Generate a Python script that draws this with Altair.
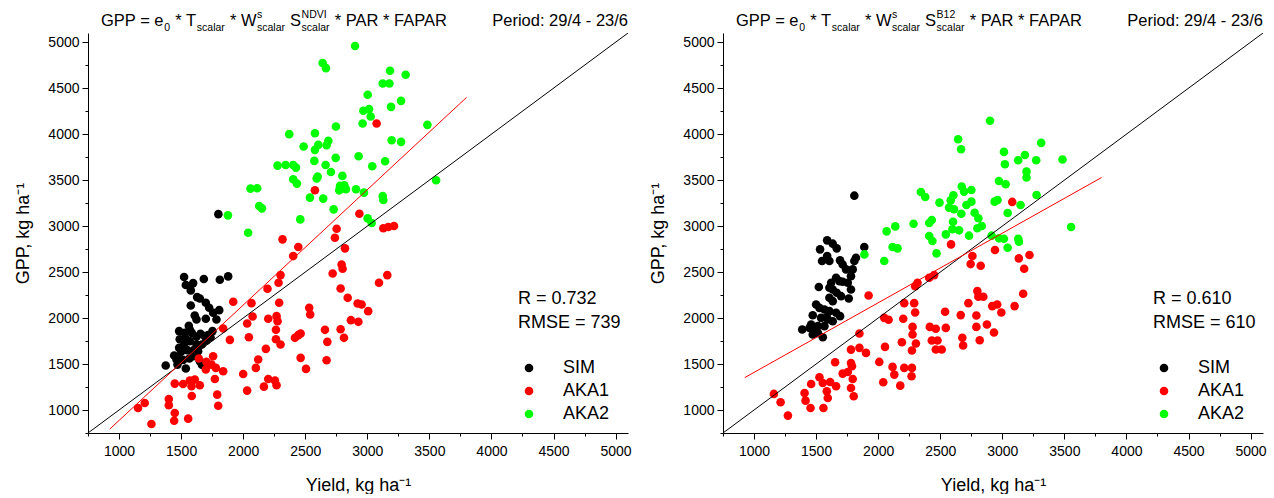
import altair as alt
import pandas as pd

# ---------------------------------------------------------------------------
# Observed yield vs. modelled GPP, two light-use-efficiency model variants
# ---------------------------------------------------------------------------
GROUPS = ["SIM", "AKA1", "AKA2"]
COLORS = ["#000000", "#ff0000", "#00ff00"]

# --- variant with the NDVI-based senescence scalar -------------------------
sim_yield_ndvi = [1524, 1879, 1812, 1683, 1538, 1597, 1578, 1629, 1651, 1699, 1578, 1726, 1807, 1758,
                  1610, 1624, 1699, 1785, 1562, 1484, 1586, 1656, 1624, 1691, 1753, 1737, 1489, 1538,
                  1522, 1484, 1549, 1602, 1444, 1481, 1516, 1567, 1637, 1667, 1667, 1376, 1471, 1538,
                  1704, 1624, 1570, 1463, 1503, 1597, 1651, 1718, 1570, 1530, 1800]
sim_gpp_ndvi = [2446, 2453, 2417, 2424, 2359, 2380, 2301, 2228, 2213, 2166, 2137, 2112, 2086, 2057,
                2028, 1985, 1992, 1985, 1916, 1858, 1839, 1829, 1796, 1803, 1858, 1792, 1770, 1774,
                1701, 1676, 1651, 1651, 1592, 1582, 1545, 1560, 1640, 1712, 1494, 1484, 1494, 1451,
                1756, 1712, 1749, 1549, 1640, 1585, 1531, 1814, 1876, 1839, 3130]

aka1_yield_ndvi = [1153, 1207, 1261, 1401, 1401, 1449, 1444, 1449, 3075, 2578, 2936, 2753, 2739, 2317,
                   2820, 2444, 2403, 3129, 3169, 3215, 2793, 2801, 2721, 2301, 2285, 3094, 3161, 2196,
                   2785, 2842, 1920, 2067, 2290, 2922, 2954, 3007, 2532, 2540, 2076, 2202, 2269, 2277,
                   2032, 2868, 2928, 1839, 2264, 2659, 2785, 1893, 2046, 2264, 2301, 2417, 2444, 2463,
                   2678, 2812, 2183, 1643, 1758, 1704, 1745, 1780, 1699, 1839, 2121, 2102, 2463, 2506,
                   2672, 2000, 2202, 2256, 2269, 2167, 2032, 1772, 1516, 1570, 1610, 1584, 1651, 1791,
                   1586, 1799, 1557]
aka1_gpp_ndvi = [1022, 1077, 848, 1120, 1051, 968, 884, 1287, 4116, 3390, 3135, 2972, 2874, 2856,
                 2758, 2772, 2674, 2976, 2990, 3001, 2583, 2536, 2485, 2467, 2384, 2384, 2467, 2318,
                 2322, 2220, 2177, 2162, 2166, 2159, 2148, 2075, 2111, 2039, 2017, 1992, 2021, 1966,
                 1941, 1977, 1959, 1886, 1872, 1872, 1879, 1763, 1792, 1770, 1712, 1785, 1814, 1832,
                 1741, 1785, 1665, 1560, 1585, 1523, 1494, 1458, 1440, 1422, 1549, 1458, 1567, 1447,
                 1541, 1392, 1338, 1320, 1269, 1254, 1211, 1338, 1283, 1320, 1331, 1258, 1269, 1167,
                 1153, 1047, 906]

aka2_yield_ndvi = [2901, 2640, 2667, 3183, 3309, 3124, 3178, 3003, 3272, 3191, 2968, 3014, 3027, 2962,
                   2371, 2578, 2747, 2686, 2672, 2605, 2578, 2487, 3196, 3272, 3484, 2573, 2745, 2930,
                   2664, 3040, 3143, 2277, 2342, 2403, 2425, 2707, 2799, 2600, 2592, 2403, 2433, 2059,
                   2113, 2780, 2815, 2828, 2774, 2909, 2973, 2538, 2645, 3124, 3129, 2129, 2151, 2729,
                   1877, 3554, 3003, 3035, 2460, 2040]
aka2_gpp_ndvi = [4958, 4773, 4718, 4689, 4646, 4551, 4551, 4428, 4362, 4297, 4254, 4272, 4192, 4116,
                 4000, 4010, 4083, 3927, 3880, 3883, 3829, 3865, 3934, 3916, 4101, 3709, 3742, 3760,
                 3665, 3651, 3705, 3658, 3665, 3665, 3636, 3589, 3546, 3538, 3517, 3509, 3462, 3408,
                 3411, 3437, 3444, 3400, 3389, 3400, 3364, 3310, 3299, 3328, 3284, 3219, 3193, 3182,
                 3117, 3498, 3084, 3034, 3073, 2928]

# --- variant with the SWIR (band 12) senescence scalar ---------------------
sim_yield_b12 = [1808, 1589, 1634, 1666, 1532, 1888, 1821, 1808, 1589, 1607, 1548, 1693, 1714, 1741,
                 1795, 1781, 1661, 1688, 1621, 1607, 1634, 1714, 1755, 1522, 1781, 1666, 1701, 1763,
                 1607, 1634, 1500, 1527, 1567, 1607, 1661, 1693, 1473, 1540, 1594, 1634, 1460, 1514,
                 1567, 1388, 1447, 1473, 1514, 1554, 1487, 1586]
sim_gpp_b12 = [3331, 2845, 2809, 2758, 2747, 2772, 2656, 2620, 2674, 2620, 2620, 2627, 2583, 2529,
               2529, 2456, 2438, 2402, 2384, 2329, 2311, 2395, 2384, 2337, 2311, 2275, 2238, 2213,
               2220, 2184, 2148, 2111, 2093, 2075, 2057, 2021, 2031, 2002, 1984, 1966, 1930, 1912,
               1912, 1875, 1893, 1821, 1839, 1792, 1857, 2010]

aka1_yield_b12 = [1160, 1214, 1273, 1407, 1415, 1460, 1455, 1527, 1559, 1554, 1613, 1661, 1586, 1594,
                  1653, 1714, 1755, 1781, 1789, 1795, 1781, 1803, 1781, 3080, 2587, 2941, 2759, 2826,
                  2745, 3133, 3219, 3176, 2317, 2298, 2411, 2451, 1923, 1849, 2799, 2807, 2847, 3168,
                  2727, 2210, 2290, 2919, 2959, 2992, 3099, 2298, 2539, 2665, 2791, 2049, 2084, 2202,
                  2876, 2277, 2277, 2304, 2272, 2416, 2464, 2545, 2791, 2933, 2678, 2684, 2432, 2478,
                  2818, 2191, 2464, 2512, 1849, 1902, 2055, 2009, 2116, 2130, 2210, 2272, 2269, 2041,
                  2178]
aka1_gpp_b12 = [1175, 1084, 939, 1185, 1102, 1283, 1022, 1356, 1022, 1294, 1305, 1258, 1204, 1131,
                1520, 1396, 1414, 1512, 1476, 1338, 1240, 1149, 1657, 3263, 2801, 2740, 2674, 2569,
                2587, 2649, 2685, 2536, 2384, 2347, 2438, 2467, 2246, 1832, 2293, 2232, 2231, 2264,
                2162, 2162, 2162, 2130, 2148, 2061, 2130, 2061, 2068, 2032, 2028, 2002, 1981, 1992,
                1930, 1904, 1821, 1723, 1647, 1904, 1883, 1893, 1904, 1843, 1785, 1701, 1756, 1756,
                1759, 1737, 1658, 1658, 1676, 1621, 1687, 1523, 1469, 1385, 1458, 1458, 1367, 1302,
                1265]

aka2_yield_b12 = [2901, 2644, 2668, 2344, 2379, 2494, 2585, 2606, 2673, 2692, 2751, 2571, 2611, 2711,
                  2751, 2670, 2777, 2807, 2834, 2799, 2603, 2598, 2652, 2545, 2732, 2285, 2138, 2068,
                  2432, 2411, 2411, 2437, 2470, 2116, 2156, 2049, 1889, 2914, 2973, 2973, 2938, 2962,
                  3013, 3021, 3027, 3313, 3128, 3182, 3195, 3195, 3273, 3485, 3147, 3043, 3276, 3554,
                  3013, 3128, 3134, 3043]
aka2_gpp_b12 = [4145, 3945, 3836, 3371, 3317, 3255, 3280, 3335, 3430, 3375, 3393, 3201, 3183, 3230,
                3266, 3135, 3146, 3085, 3001, 2976, 3048, 2965, 2954, 2910, 2896, 3026, 2997, 2943,
                3066, 3034, 2892, 2838, 2703, 2772, 2758, 2620, 2692, 2896, 2867, 3491, 3266, 3284,
                3807, 3673, 3455, 3905, 3716, 3774, 3593, 3528, 3716, 3724, 3230, 3143, 3339, 2990,
                2863, 2863, 2830, 2765]

# Regression lines (slope, intercept) drawn over the fitted yield range
FIT_YIELD_RANGE = [925, 3800]
FIT_NDVI = (1.255, -369)
FIT_B12 = (0.757, 652)

STATS_NDVI = ["R = 0.732", "RMSE = 739"]
STATS_B12 = ["R = 0.610", "RMSE = 610"]

FORMULA_NDVI = [("GPP = e", "", "0"), (" * T", "", "scalar"), (" * W", "s", "scalar"),
                (" S", "NDVI", "scalar"), (" * PAR * FAPAR", "", "")]
FORMULA_B12 = [("GPP = e", "", "0"), (" * T", "", "scalar"), (" * W", "s", "scalar"),
               (" S", "B12", "scalar"), (" * PAR * FAPAR", "", "")]
PERIOD = "Period: 29/4 - 23/6"

# Axes
AXIS_RANGE = [750, 5100]
MAJOR_TICKS = [1000, 1500, 2000, 2500, 3000, 3500, 4000, 4500, 5000]
MINOR_TICKS = [750, 1250, 1750, 2250, 2750, 3250, 3750, 4250, 4750]
X_TITLE = "Yield, kg ha\u207b\u00b9"
Y_TITLE = "GPP, kg ha\u207b\u00b9"

# ---------------------------------------------------------------------------
FONT = "Liberation Sans"
W, H = 540, 400
MAIN_SIZE, SCRIPT_SIZE = 16.5, 10.5
DOT_SIZE = 74

# Arial advance widths (1/1000 em) used to lay out the formula pieces
ARIAL = {" ": 278, "*": 389, "=": 584, ":": 278, "/": 278, "-": 333, ".": 278, ",": 278,
         "A": 667, "B": 667, "D": 722, "F": 611, "G": 778, "I": 278, "N": 722, "P": 667,
         "R": 722, "S": 667, "T": 611, "V": 667, "W": 944,
         "a": 556, "c": 500, "e": 556, "l": 222, "r": 333, "s": 500}


def text_width(s, size):
    return sum(ARIAL.get(ch, 556) for ch in s) * size / 1000.0


ANCHOR = pd.DataFrame({"k": [0]})


def label(txt, x, y, size, align="left"):
    return alt.Chart(ANCHOR).mark_text(
        text=txt, align=align, baseline="alphabetic", font=FONT, fontSize=size, color="black"
    ).encode(x=alt.value(x), y=alt.value(y))


def formula_layers(segments, x0=13, base_y=-7, sub_y=-2, sup_y=-15):
    layers = []
    x = x0
    for base, sup, sub in segments:
        lead = len(base) - len(base.lstrip(" "))
        x += text_width(base[:lead], MAIN_SIZE)
        body = base.lstrip(" ")
        layers.append(label(body, x, base_y, MAIN_SIZE))
        x += text_width(body, MAIN_SIZE)
        sx = x + 0.5
        w = 0.0
        if sup:
            layers.append(label(sup, sx, sup_y, SCRIPT_SIZE))
            w = max(w, text_width(sup, SCRIPT_SIZE))
        if sub:
            layers.append(label(sub, sx, sub_y, SCRIPT_SIZE))
            w = max(w, text_width(sub, SCRIPT_SIZE))
        if w:
            x = sx + w + 0.5
    return layers


def panel(series, fit, stats, segments):
    rows = []
    for group, xs, ys in series:
        rows += [{"Yield": a, "GPP": b, "Group": group} for a, b in zip(xs, ys)]
    df = pd.DataFrame(rows)

    sx = alt.Scale(domain=AXIS_RANGE, nice=False, zero=False)
    sy = alt.Scale(domain=AXIS_RANGE, nice=False, zero=False)

    major_x = alt.Axis(values=MAJOR_TICKS, orient="bottom", tickSize=6, labelPadding=5,
                       format="d", labelFlush=False, title=X_TITLE, titlePadding=18)
    major_y = alt.Axis(values=MAJOR_TICKS, orient="left", tickSize=6, labelPadding=3,
                       format="d", labelFlush=False, title=Y_TITLE, titlePadding=15)
    minor_x = alt.Axis(values=MINOR_TICKS, orient="bottom", tickSize=3, labels=False,
                       domain=False, title=None)
    minor_y = alt.Axis(values=MINOR_TICKS, orient="left", tickSize=3, labels=False,
                       domain=False, title=None)

    points = alt.Chart(df).mark_circle(size=DOT_SIZE, opacity=1).encode(
        x=alt.X("Yield:Q", scale=sx, axis=major_x),
        y=alt.Y("GPP:Q", scale=sy, axis=major_y),
        color=alt.Color("Group:N", sort=GROUPS,
                        scale=alt.Scale(domain=GROUPS, range=COLORS),
                        legend=alt.Legend(orient="none", legendX=432, legendY=326, title=None,
                                          labelFont=FONT, labelFontSize=18, labelColor="black",
                                          symbolType="circle", symbolSize=DOT_SIZE,
                                          symbolStrokeWidth=0, labelOffset=25, rowPadding=5,
                                          padding=0)),
        order=alt.Order("order:Q"),
    ).transform_calculate(order="indexof(['SIM','AKA1','AKA2'], datum.Group)")

    one_to_one = alt.Chart(pd.DataFrame({"Yield": AXIS_RANGE, "GPP": AXIS_RANGE})).mark_line(
        color="black", strokeWidth=1, clip=True
    ).encode(x=alt.X("Yield:Q", scale=sx, axis=minor_x),
             y=alt.Y("GPP:Q", scale=sy, axis=minor_y))

    slope, intercept = fit
    fit_df = pd.DataFrame({"Yield": FIT_YIELD_RANGE,
                           "GPP": [slope * v + intercept for v in FIT_YIELD_RANGE]})
    fit_line = alt.Chart(fit_df).mark_line(color="#ff0000", strokeWidth=1, clip=True).encode(
        x=alt.X("Yield:Q", scale=sx, axis=None), y=alt.Y("GPP:Q", scale=sy, axis=None))

    texts = [label(stats[0], 430, 271, 18), label(stats[1], 430, 294.5, 18),
             label(PERIOD, W, -7, MAIN_SIZE, align="right")]
    texts += formula_layers(segments)

    return alt.layer(points, one_to_one, fit_line, *texts).resolve_axis(
        x="independent", y="independent"
    ).properties(width=W, height=H)


left = panel([("SIM", sim_yield_ndvi, sim_gpp_ndvi), ("AKA1", aka1_yield_ndvi, aka1_gpp_ndvi),
              ("AKA2", aka2_yield_ndvi, aka2_gpp_ndvi)], FIT_NDVI, STATS_NDVI, FORMULA_NDVI)
right = panel([("SIM", sim_yield_b12, sim_gpp_b12), ("AKA1", aka1_yield_b12, aka1_gpp_b12),
               ("AKA2", aka2_yield_b12, aka2_gpp_b12)], FIT_B12, STATS_B12, FORMULA_B12)

chart = alt.hconcat(left, right, spacing=17).resolve_scale(
    color="independent"
).properties(
    padding={"left": 14, "top": 10, "right": 2, "bottom": 0}, background="white"
).configure_view(stroke=None).configure_axis(
    grid=False, labelFont=FONT, labelFontSize=14, labelColor="black",
    titleFont=FONT, titleFontSize=18, titleFontWeight="normal", titleColor="black",
    domainColor="black", tickColor="black", domainWidth=1, tickWidth=1
)

chart.save("out.html", embed_options={"renderer": "svg", "actions": False})
